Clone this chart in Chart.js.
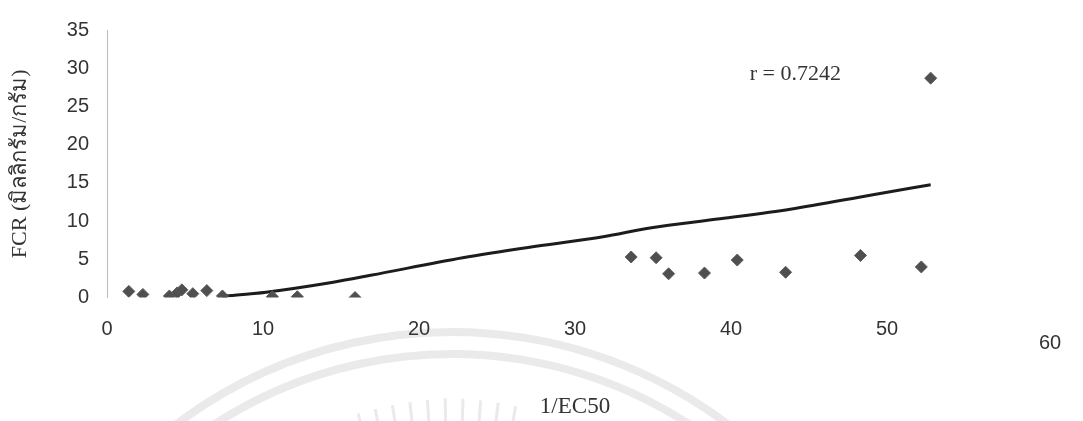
<!DOCTYPE html>
<html>
<head>
<meta charset="utf-8">
<script src="https://cdn.jsdelivr.net/npm/chart.js@4.4.1/dist/chart.umd.min.js"></script>
<style>
  html, body { margin: 0; padding: 0; background: #ffffff; }
  #wrap { width: 1083px; height: 421px; position: relative; }
</style>
</head>
<body>
<div id="wrap"><canvas id="c" width="1083" height="421"></canvas></div>
<script>
// Measured samples: 1/EC50 against FCR
const xValues = [1.4, 2.3, 4.0, 4.5, 4.8, 5.5, 6.4, 7.4, 10.6, 12.2, 15.9,
                 33.6, 35.2, 36.0, 38.3, 40.4, 43.5, 48.3, 52.2, 52.8];
const yValues = [0.8, 0.4, 0.2, 0.6, 1.0, 0.5, 0.9, 0.2, 0.1, 0.1, 0.0,
                 5.3, 5.2, 3.1, 3.2, 4.9, 3.3, 5.5, 4.0, 28.7];

// Fitted trend line
const trendX = [7.4, 10.2, 14.5, 16.9, 22.8, 27.5, 31.8, 34.8, 39.3, 43.8, 49.1, 52.8];
const trendY = [0.15, 0.7, 2.0, 2.9, 5.2, 6.7, 7.95, 9.1, 10.3, 11.55, 13.45, 14.75];

// Axis ticks
const xTicks = [0, 10, 20, 30, 40, 50, 60];
const yTicks = [0, 5, 10, 15, 20, 25, 30, 35];

const rLabel = 'r = 0.7242';
const rLabelAt = { x: 41.2, y: 29.2 };

const xTitle = '1/EC50';
const yTitle = 'FCR (มิลลิกรัม/กรัม)';

const SANS = '"Liberation Sans", Arial, sans-serif';
const SERIF = '"Liberation Serif", "Times New Roman", serif';
const TEXT = '#333333';

const points = xValues.map((x, i) => ({ x, y: yValues[i] }));
const trend = trendX.map((x, i) => ({ x, y: trendY[i] }));

// Faint seal watermark printed behind the figure
const watermark = {
  id: 'watermark',
  beforeDraw(chart) {
    const ctx = chart.ctx;
    const cx = 452, cy = 790;
    ctx.save();
    ctx.strokeStyle = 'rgba(205,205,205,0.42)';
    ctx.lineWidth = 8;
    [458, 436].forEach(r => {
      ctx.beginPath();
      ctx.arc(cx, cy, r, Math.PI * 1.05, Math.PI * 1.95);
      ctx.stroke();
    });
    ctx.lineWidth = 3;
    ctx.strokeStyle = 'rgba(205,205,205,0.42)';
    for (let a = -14; a <= 11; a += 2.6) {
      const t = (a - 90) * Math.PI / 180;
      const r1 = 392 - Math.abs(a) * 0.3, r2 = 350;
      ctx.beginPath();
      ctx.moveTo(cx + r1 * Math.cos(t), cy + r1 * Math.sin(t));
      ctx.lineTo(cx + r2 * Math.cos(t), cy + r2 * Math.sin(t));
      ctx.stroke();
    }
    ctx.restore();
  }
};

// Correlation note and the last x tick label, which sits slightly lower
const extras = {
  id: 'extras',
  afterDraw(chart) {
    const ctx = chart.ctx;
    const xs = chart.scales.x, ys = chart.scales.y;
    ctx.save();
    ctx.fillStyle = TEXT;
    ctx.font = '22px ' + SERIF;
    ctx.textAlign = 'left';
    ctx.textBaseline = 'middle';
    ctx.fillText(rLabel, xs.getPixelForValue(rLabelAt.x), ys.getPixelForValue(rLabelAt.y));

    const last = xTicks[xTicks.length - 1];
    ctx.font = '20px ' + SANS;
    ctx.textAlign = 'center';
    ctx.fillText(String(last), xs.getPixelForValue(last) + 7, ys.getPixelForValue(0) + 46);
    ctx.restore();
  }
};

new Chart(document.getElementById('c'), {
  type: 'scatter',
  data: {
    datasets: [
      {
        label: 'trend',
        data: trend,
        showLine: true,
        borderColor: '#1c1c1c',
        borderWidth: 3,
        pointRadius: 0,
        cubicInterpolationMode: 'monotone',
        fill: false,
        order: 2
      },
      {
        label: 'FCR',
        data: points,
        pointStyle: 'rectRot',
        pointRadius: 6,
        pointBackgroundColor: '#4f4f4f',
        pointBorderColor: '#5a5a5a',
        pointBorderWidth: 1,
        order: 1
      }
    ]
  },
  options: {
    responsive: false,
    animation: false,
    devicePixelRatio: 1,
    layout: { padding: { top: 22.5, right: 40, bottom: 0, left: 0 } },
    plugins: {
      legend: { display: false },
      tooltip: { enabled: false }
    },
    scales: {
      x: {
        type: 'linear',
        min: xTicks[0],
        max: xTicks[xTicks.length - 1],
        afterBuildTicks(s) { s.ticks = xTicks.map(v => ({ value: v })); },
        afterFit(s) { s.height = 123.5; },
        grid: { display: false, drawTicks: false },
        border: { display: false },
        ticks: {
          padding: 20,
          color: TEXT,
          font: { family: SANS, size: 20 },
          callback: v => (v === xTicks[xTicks.length - 1] ? '' : String(v))
        },
        title: {
          display: true,
          text: xTitle,
          color: TEXT,
          font: { family: SERIF, size: 23 },
          padding: { top: 8, bottom: 0 }
        }
      },
      y: {
        type: 'linear',
        min: yTicks[0],
        max: yTicks[yTicks.length - 1],
        afterBuildTicks(s) { s.ticks = yTicks.map(v => ({ value: v })); },
        afterFit(s) { s.width = 107; },
        grid: { display: false, drawTicks: false },
        border: { display: true, color: 'rgba(170,170,170,0.8)', width: 1 },
        ticks: {
          padding: 18,
          color: TEXT,
          font: { family: SANS, size: 20 },
          callback: v => String(v)
        },
        title: {
          display: true,
          text: yTitle,
          color: TEXT,
          font: { family: SERIF, size: 22 },
          padding: { top: 7, bottom: 0 }
        }
      }
    }
  },
  plugins: [watermark, extras]
});
</script>
</body>
</html>
